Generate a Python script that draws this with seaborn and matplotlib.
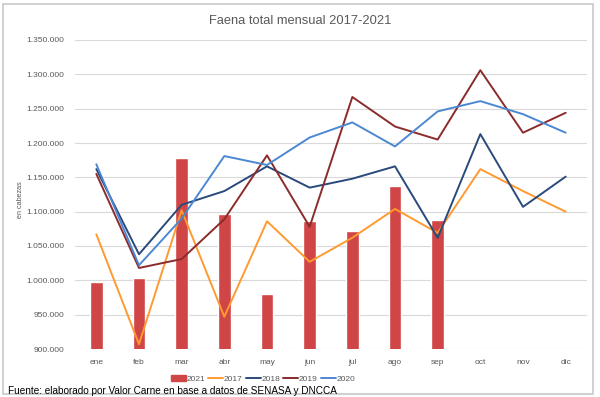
import matplotlib
matplotlib.use("Agg")
import matplotlib.pyplot as plt
import matplotlib.patches as mpatches
from matplotlib.lines import Line2D
from matplotlib.ticker import FuncFormatter
import seaborn as sns
import pandas as pd
import numpy as np

months = ["ene", "feb", "mar", "abr", "may", "jun", "jul", "ago", "sep", "oct", "nov", "dic"]
v2021 = [997000, 1003000, 1178000, 1096000, 980000, 1087000, 1072000, 1138000, 1088000]
v2017 = [1067000, 907000, 1102000, 947000, 1086000, 1027000, 1062000, 1104000, 1069000, 1162000, 1130000, 1100000]
v2018 = [1162000, 1038000, 1110000, 1130000, 1166000, 1135000, 1148000, 1166000, 1062000, 1213000, 1107000, 1151000]
v2019 = [1155000, 1018000, 1031000, 1089000, 1182000, 1078000, 1267000, 1224000, 1205000, 1306000, 1215000, 1244000]
v2020 = [1169000, 1022000, 1090000, 1181000, 1168000, 1208000, 1230000, 1195000, 1246000, 1261000, 1242000, 1215000]
title = "Faena total mensual 2017-2021"
ylabel = "en cabezas"
source = "Fuente: elaborado por Valor Carne en base a datos de SENASA y DNCCA"

line_series = {"2017": v2017, "2018": v2018, "2019": v2019, "2020": v2020}
colors = {"2021": "#d04545", "2017": "#ff9a30", "2018": "#2a4a7c",
          "2019": "#8c2b2b", "2020": "#4c88d2"}

sns.set_theme(style="white")
plt.rcParams["font.family"] = ["Liberation Sans", "DejaVu Sans"]

fig = plt.figure(figsize=(6.0, 3.97), dpi=100)
ax = fig.add_axes([75/600, 1-349/397, 512/600, (349-40)/397])

bar_df = pd.DataFrame({"mes": months[:len(v2021)], "valor": v2021})
sns.barplot(data=bar_df, x="mes", y="valor", order=months, color=colors["2021"],
            width=0.29, saturation=1, ax=ax, zorder=2)

rows = []
for yr, vals in line_series.items():
    for i, v in enumerate(vals):
        rows.append({"idx": i, "valor": v, "serie": yr})
line_df = pd.DataFrame(rows)
sns.lineplot(data=line_df, x="idx", y="valor", hue="serie", palette=colors,
             hue_order=list(line_series.keys()), linewidth=1.4, ax=ax,
             legend=False, zorder=3)

ax.set_xlim(-0.5, len(months) - 0.5)
ax.set_ylim(900000, 1350000)
ax.set_yticks(np.arange(900000, 1350001, 50000))
ax.yaxis.set_major_formatter(FuncFormatter(lambda v, p: f"{int(v):,}".replace(",", ".")))
ax.set_xticks(range(len(months)))
ax.set_xticklabels(months)
ax.tick_params(axis="both", labelsize=6.0, colors="#595959", length=0)
ax.tick_params(axis="x", pad=7)
ax.tick_params(axis="y", pad=7.5)
ax.grid(axis="y", color="#d9d9d9", linewidth=0.8, zorder=0)
ax.set_axisbelow(True)
for s in ax.spines.values():
    s.set_visible(False)
ax.set_xlabel("")
ax.set_ylabel("")

fig.text(20/600, 1-200/397, ylabel, rotation=90, fontsize=5.2, color="#595959",
         ha="center", va="center")
fig.text(300/600, 1-20.5/397, title, fontsize=9.3, color="#595959", ha="center", va="center")

handles = [mpatches.Patch(color=colors["2021"], label="2021")]
for yr in line_series:
    handles.append(Line2D([0], [0], color=colors[yr], lw=1.4, label=yr))
fig.legend(handles=handles, loc="center", bbox_to_anchor=(263/600, 1-379/397), ncol=5,
           frameon=False, fontsize=6.0, handlelength=1.8, handleheight=0.7,
           columnspacing=0.35, handletextpad=0.1, labelcolor="#595959")

fig.text(8/600, 1-394/397, source, fontsize=7.2, color="black", ha="left",
         va="baseline")

fig.patches.append(mpatches.Rectangle((3/600, 3/397), 590/600, 390/397, transform=fig.transFigure,
                                      fill=False, edgecolor="#c8c8c8", linewidth=1.2))

fig.savefig("out.png", dpi=100)
